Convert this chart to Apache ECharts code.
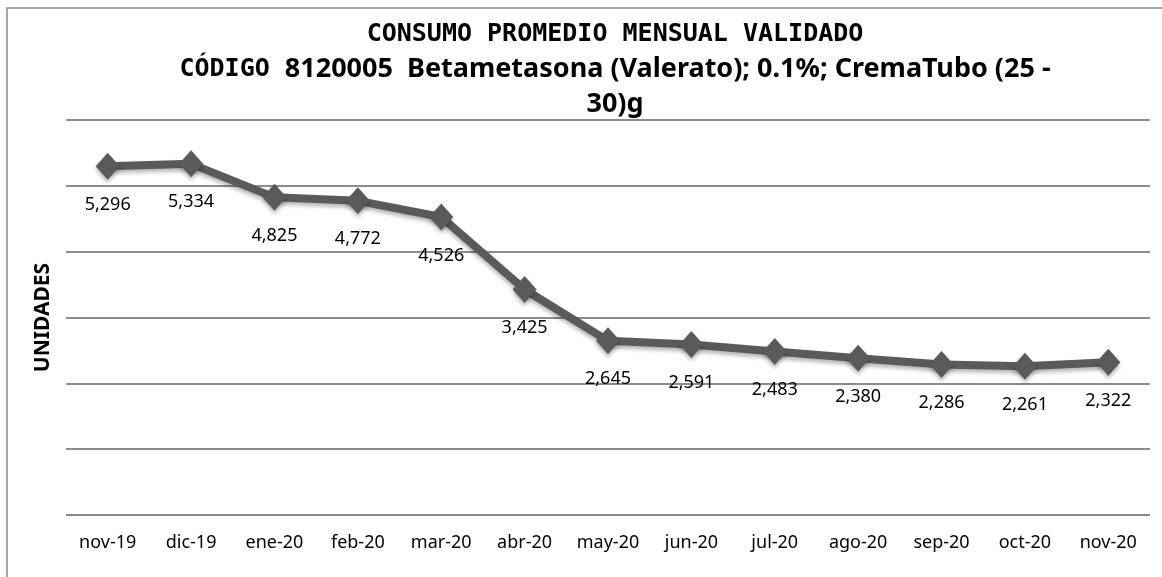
<!DOCTYPE html>
<html>
<head>
<meta charset="utf-8">
<script src="https://cdn.jsdelivr.net/npm/echarts@6/dist/echarts.min.js"></script>
<style>
html, body { margin: 0; padding: 0; background: #fff; }
#chart { width: 1162px; height: 577px; }
</style>
</head>
<body>
<div id="chart"></div>
<script>
// datos del grafico
var meses = ['nov-19', 'dic-19', 'ene-20', 'feb-20', 'mar-20', 'abr-20', 'may-20', 'jun-20', 'jul-20', 'ago-20', 'sep-20', 'oct-20', 'nov-20']
var consumo = [5296, 5334, 4825, 4772, 4526, 3425, 2645, 2591, 2483, 2380, 2286, 2261, 2322]
var tituloLinea1 = 'CONSUMO PROMEDIO MENSUAL VALIDADO'
var tituloCodigo = 'CÓDIGO'
var tituloProducto = '8120005  Betametasona (Valerato); 0.1%; CremaTubo (25 -'
var tituloFin = '30)g'

var chart = echarts.init(document.getElementById('chart'))
chart.setOption({
    backgroundColor: '#fff',
    animation: false,
    title: {
        text: '{a|' + tituloLinea1 + '}\n{a|' + tituloCodigo + ' }{b|' + tituloProducto + '}\n{b|' + tituloFin + '}',
        left: 610,
        top: 12,
        textAlign: 'center',
        textStyle: {
            rich: {
                a: { fontFamily: 'DejaVu Sans Mono', fontWeight: 'bold', fontSize: 25, color: '#000', lineHeight: 35 },
                b: { fontFamily: 'Noto Sans', fontWeight: 'bold', fontSize: 27, color: '#000', lineHeight: 35 }
            }
        }
    },
    graphic: [{
        type: 'rect',
        shape: { x: 7, y: 8, width: 1200, height: 620 },
        style: { fill: 'none', stroke: '#8a8a8a', lineWidth: 1.5 },
        silent: true
    }],
    grid: { left: 66, right: 12, top: 120, bottom: 62 },
    xAxis: {
        type: 'category',
        data: meses,
        boundaryGap: true,
        axisLine: { show: false },
        axisTick: { show: false },
        axisLabel: { fontFamily: 'Noto Sans', fontSize: 18, color: '#000', margin: 19 }
    },
    yAxis: {
        type: 'value',
        min: 0,
        max: 6000,
        interval: 1000,
        name: 'UNIDADES',
        nameLocation: 'middle',
        nameGap: 12,
        nameTextStyle: { fontFamily: 'Noto Sans', fontWeight: 'bold', fontSize: 21, color: '#000' },
        axisLabel: { show: false },
        axisLine: { show: false },
        axisTick: { show: false },
        splitLine: { lineStyle: { color: '#8c8c8c', width: 2 } }
    },
    series: [{
        type: 'line',
        data: consumo,
        symbol: 'diamond',
        symbolSize: [24, 27],
        lineStyle: {
            color: '#5a5a5a', width: 8,
            shadowColor: 'rgba(0,0,0,0.3)', shadowBlur: 4, shadowOffsetY: 3
        },
        itemStyle: {
            color: '#5a5a5a',
            shadowColor: 'rgba(0,0,0,0.3)', shadowBlur: 4, shadowOffsetY: 3
        },
        label: {
            show: true,
            position: 'bottom',
            distance: 16,
            fontFamily: 'Noto Sans',
            fontSize: 18,
            color: '#000',
            formatter: function (p) {
                return p.value.toLocaleString('en-US')
            }
        }
    }]
})
</script>
</body>
</html>
